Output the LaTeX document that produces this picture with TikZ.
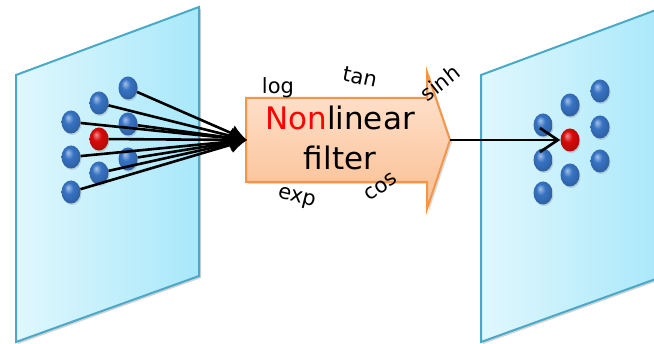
\documentclass[tikz,border=0pt]{standalone}
\usepackage{fontspec}
\setmainfont{DejaVu Sans}
\usetikzlibrary{shapes,arrows.meta,shadows,positioning}
\definecolor{PanelLeft}{RGB}{224,247,253}
\definecolor{PanelRight}{RGB}{168,232,250}
\definecolor{PanelEdge}{RGB}{72,170,200}
\definecolor{FilterTop}{RGB}{255,230,212}
\definecolor{FilterBottom}{RGB}{250,190,145}
\definecolor{FilterEdge}{RGB}{245,150,70}
\definecolor{DotBlue}{RGB}{55,115,195}
\definecolor{DotRed}{RGB}{215,10,10}
\pgfdeclareradialshading{beadblue}{\pgfqpoint{-8bp}{10bp}}{color(0bp)=(DotBlue!45!white); color(12bp)=(DotBlue); color(32bp)=(DotBlue!80!black); color(50bp)=(DotBlue!55!black)}
\pgfdeclareradialshading{beadred}{\pgfqpoint{-8bp}{10bp}}{color(0bp)=(DotRed!45!white); color(12bp)=(DotRed); color(32bp)=(DotRed!80!black); color(50bp)=(DotRed!55!black)}

\begin{document}
\begin{tikzpicture}[x=1pt,y=-1pt,
    panel/.style={draw=PanelEdge,line width=2pt,left color=PanelLeft,right color=PanelRight,
      drop shadow={shadow xshift=2pt,shadow yshift=-2pt,opacity=0.35}},
    dot/.style={ellipse,minimum width=19pt,minimum height=23pt,inner sep=0pt,shading=beadblue,
      drop shadow={shadow xshift=1pt,shadow yshift=-1.5pt,opacity=0.3}},
    hot/.style={dot,shading=beadred},
    func/.style={font=\fontsize{21}{24}\selectfont,inner sep=0pt},
    feed/.style={-{Latex[length=17pt,width=17pt]},line width=2.6pt}]
    \useasboundingbox (0,0) rectangle (654,344);
    \clip (0,0) rectangle (654,344);

    % input and output planes
    \draw[panel] (16,75) -- (199,7) -- (199,276) -- (16,342) -- cycle;
    \draw[panel] (481,75) -- (664,7) -- (664,276) -- (481,342) -- cycle;

    % input neighbourhood
    \node[dot] (src1) at (128,88) {};
    \node[dot] (src2) at (99,103) {};
    \node[dot] (src3) at (71,122) {};
    \node[dot] (src4) at (128,124) {};
    \node[hot] (src5) at (99,139) {};
    \node[dot] (src6) at (71,157) {};
    \node[dot] (src7) at (128,159) {};
    \node[dot] (src8) at (99,173) {};
    \node[dot] (src9) at (71,192) {};

    % output neighbourhood
    \node[dot] (dst1) at (600,91) {};
    \node[dot] (dst2) at (570,105) {};
    \node[dot] (dst3) at (543,125) {};
    \node[dot] (dst4) at (600,127) {};
    \node[hot] (dst5) at (570,140) {};
    \node[dot] (dst6) at (543,160) {};
    \node[dot] (dst7) at (600,161) {};
    \node[dot] (dst8) at (570,175) {};
    \node[dot] (dst9) at (543,193) {};

    % filter block
    \draw[draw=FilterEdge,line width=2pt,top color=FilterTop,bottom color=FilterBottom,
      drop shadow={shadow xshift=2pt,shadow yshift=-2pt,opacity=0.3}]
      (246,98) -- (427,98) -- (427,72) -- (450,140) -- (427,209) -- (427,182) -- (246,182) -- cycle;
    \coordinate (mouth) at (247,140);
    \coordinate (tip) at (450,140);
    \node[align=center,inner sep=0pt,font=\fontsize{31}{40}\selectfont] (filter) at (340,138) {\textcolor{red}{Non}linear\\filter};

    \node[func] (log) at (278,88) {log};
    \node[func,rotate=-12] (tan) at (360,77) {tan};
    \node[func,rotate=38] (sinh) at (440,83) {sinh};
    \node[func,rotate=-14] (exp) at (297,199) {exp};
    \node[func,rotate=35] (cos) at (381,187) {cos};

    \draw[feed] (src1) -- (mouth);
    \draw[feed] (src2) -- (mouth);
    \draw[feed] (src3) -- (mouth);
    \draw[feed] (src4) -- (mouth);
    \draw[feed] (src5) -- (mouth);
    \draw[feed] (src6) -- (mouth);
    \draw[feed] (src7) -- (mouth);
    \draw[feed] (src8) -- (mouth);
    \draw[feed] (src9) -- (mouth);

    \draw[-{Straight Barb[length=18pt,width=24pt]},line width=2.6pt] (tip) -- (dst5);
\end{tikzpicture}
\end{document}
